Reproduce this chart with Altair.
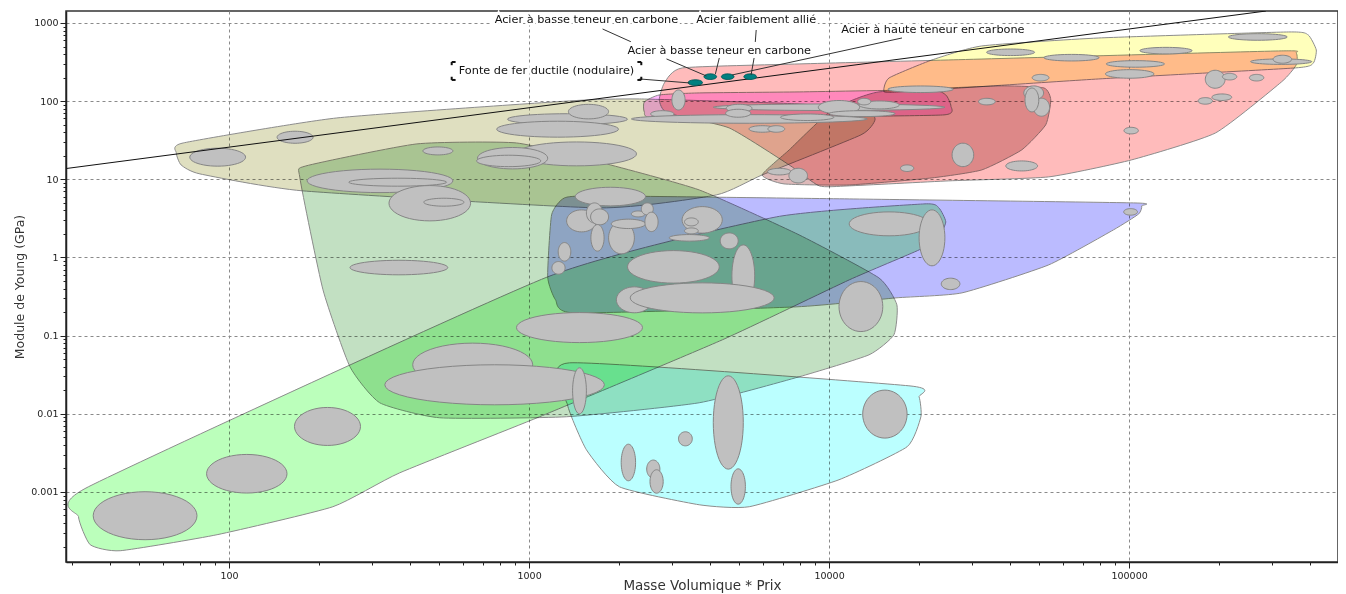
import altair as alt
import numpy as np
import pandas as pd

# ---------------- data (log10 values) ----------------
# material bubbles: centre log10(density*price), centre log10(E), half-spans in decades
bub_lx = [1.720, 2.059, 2.328, 1.962, 2.220, 3.128, 3.198, 3.095, 3.158, 2.945, 2.932, 2.696,
          2.503, 2.562, 2.669, 2.716, 2.566, 3.271, 3.168, 2.812, 2.885, 3.168, 4.106, 4.405,
          3.175, 3.218, 3.235, 3.228, 3.308, 3.331, 3.364, 3.394, 3.408, 3.118, 3.098, 3.577,
          3.541, 3.541, 3.534, 3.667, 3.481, 3.714, 3.351, 3.577, 4.200, 4.343, 5.005,
          3.664, 4.186, 3.521, 3.331, 3.414, 3.425, 3.697,
          3.498, 3.444, 3.734, 4.000, 3.700, 3.697, 4.033, 4.167, 4.117, 3.927, 4.110, 3.777,
          3.824, 3.834, 3.897, 4.446, 4.260, 4.642, 4.526, 4.305, 4.605, 4.808, 5.123, 5.429,
          5.021, 5.002, 5.507, 5.511, 5.287, 5.335, 5.425, 5.254, 5.309, 5.007, 4.705,
          4.682, 4.708, 4.676]
bub_ly = [-3.304, -2.767, -2.162, 1.283, 1.538, 1.769, 1.866, 1.641, 1.325, 1.270, 1.235, 1.363,
          0.980, 0.963, 0.694, 0.707, -0.129, 0.779, -0.897, -1.373, -1.629, -1.706, -0.628, -0.338,
          0.468, 0.570, 0.519, 0.251, 0.251, 0.430, 0.557, 0.621, 0.455, 0.072, -0.133, 0.481,
          0.455, 0.340, 0.251, 0.212, -0.120, -0.235, -0.542, -0.517, 0.430, 0.251, 0.583,
          -2.111, -2.004, -2.320, -2.623, -2.707, -2.866, -2.930,
          2.015, 1.836, 1.772, 1.922, 1.909, 1.845, 1.922, 1.951, 1.994, 1.794, 1.840, 1.644,
          1.644, 1.098, 1.047, 1.312, 1.142, 1.171, 1.994, 2.152, 2.625, 2.556, 2.646, 2.821,
          2.476, 2.348, 2.505, 2.536, 2.280, 2.313, 2.300, 2.003, 2.050, 1.623, 2.300,
          2.105, 1.922, 2.015]
bub_dx = [.173, .134, .110, .093, .060, .200, .067, .203, .200, .117, .107, .050,
          .243, .163, .136, .067, .163, .117, .210, .200, .366, .023, .073, .031,
          .050, .027, .030, .022, .043, .057, .023, .020, .022, .021, .022, .067,
          .023, .023, .067, .030, .153, .038, .060, .240, .133, .043, .023,
          .050, .074, .023, .024, .022, .022, .024,
          .022, .039, .393, .386, .043, .042, .069, .067, .022, .089, .110, .044,
          .028, .039, .031, .036, .022, .053, .028, .109, .080, .092, .087, .098,
          .097, .081, .102, .031, .033, .024, .024, .024, .033, .024, .028,
          .033, .027, .023]
bub_dy = [.307, .247, .243, .115, .077, .070, .093, .102, .153, .137, .073, .051,
          .150, .051, .226, .051, .093, .119, .192, .277, .256, .294, .320, .073,
          .141, .128, .102, .170, .205, .060, .038, .077, .124, .119, .081, .170,
          .051, .038, .042, .102, .208, .396, .166, .192, .153, .358, .042,
          .597, .307, .090, .234, .115, .150, .226,
          .128, .042, .055, .042, .051, .051, .086, .051, .042, .042, .038, .042,
          .042, .042, .094, .150, .042, .064, .042, .042, .042, .042, .042, .042,
          .042, .055, .035, .051, .115, .042, .042, .042, .042, .042, .042,
          .090, .115, .153]

# highlighted steels (teal bubbles)
steel_lx = [3.554, 3.604, 3.662, 3.737]
steel_ly = [2.237, 2.313, 2.313, 2.313]
steel_dx = [.024, .021, .021, .021]
steel_dy = [.036, .036, .036, .036]

# family envelopes (log10 outline vertices)
env_khaki_lx = [1.824, 1.847, 2.359, 3.135, 3.368, 3.900, 4.126, 4.153, 4.106, 3.777, 3.624, 3.235, 2.246, 1.903, 1.840]
env_khaki_ly = [1.338, 1.465, 1.785, 2.003, 2.028, 1.964, 1.875, 1.760, 1.568, 1.056, 0.800, 0.634, 0.852, 1.069, 1.184]
env_green_lx = [2.236, 2.256, 2.626, 2.958, 3.245, 3.567, 3.900, 4.166, 4.226, 4.216, 4.133, 3.900, 3.567, 3.125, 2.702, 2.502, 2.403, 2.313]
env_green_ly = [1.018, 1.171, 1.453, 1.465, 1.210, 0.864, 0.289, -0.261, -0.606, -0.990, -1.246, -1.527, -1.859, -2.038, -2.051, -1.859, -1.399, -0.414]
env_foam_lx = [1.531, 3.062, 3.824, 4.316, 4.366, 4.389, 4.366, 4.300, 4.067, 3.644, 3.035, 2.569, 2.346, 1.960, 1.637, 1.537, 1.498]
env_foam_ly = [-2.934, -0.248, 0.519, 0.685, 0.634, 0.455, 0.263, 0.097, -0.287, -1.054, -2.038, -2.755, -3.189, -3.547, -3.752, -3.675, -3.317]
env_blue_lx = [3.118, 3.075, 3.062, 3.088, 3.151, 3.890, 4.223, 4.443, 4.732, 4.948, 5.032, 5.042, 5.015, 4.067, 3.235]
env_blue_ly = [0.762, 0.545, -0.248, -0.542, -0.709, -0.632, -0.517, -0.453, -0.095, 0.353, 0.557, 0.660, 0.698, 0.749, 0.788]
env_cyan_lx = [3.135, 4.266, 4.300, 4.306, 4.260, 4.033, 3.734, 3.567, 3.301, 3.191, 3.128]
env_cyan_ly = [-1.348, -1.642, -1.783, -2.038, -2.422, -2.844, -3.189, -3.164, -2.934, -2.460, -1.885]
env_yellow_lx = [4.183, 4.200, 4.343, 4.509, 4.899, 5.531, 5.597, 5.624, 5.614, 5.554, 4.899, 4.233]
env_yellow_ly = [2.130, 2.297, 2.527, 2.706, 2.808, 2.885, 2.847, 2.655, 2.488, 2.425, 2.284, 2.118]
env_pink_lx = [3.511, 3.451, 3.434, 3.461, 3.667, 3.867, 3.967, 4.067, 4.399, 4.732, 5.008, 5.288, 5.508, 5.557, 5.557, 5.498, 4.399, 3.900]
env_pink_ly = [2.425, 2.233, 2.015, 1.849, 1.657, 1.184, 0.916, 0.916, 0.980, 1.031, 1.248, 1.593, 2.246, 2.463, 2.616, 2.642, 2.527, 2.476]
env_rose_lx = [3.777, 3.867, 4.010, 4.166, 4.566, 4.716, 4.739, 4.722, 4.642, 4.509, 4.343, 4.067, 3.850]
env_rose_ly = [1.056, 1.376, 1.887, 2.118, 2.194, 2.169, 2.015, 1.696, 1.376, 1.120, 1.018, 0.928, 0.941]
env_mag_lx = [3.434, 3.384, 3.384, 3.418, 3.900, 4.383, 4.406, 4.389, 4.333, 3.900, 3.567]
env_mag_ly = [2.079, 1.990, 1.862, 1.785, 1.798, 1.824, 1.939, 2.079, 2.143, 2.118, 2.105]

env_names = ["khaki", "green", "foam", "blue", "cyan", "yellow", "pink", "rose", "magenta"]
env_colors = ["#dfdfc0", "#c2e0c2", "#bbffbb", "#bbbbff", "#bbffff", "#ffffbb", "#ffbbbb", "#ddb9b9", "#ffb9ff"]

# guideline (slope 1/2 in log-log)
guide_x = [28.7, 285800]
guide_y = [13.75, 1422]

# annotations
lab_text = ["Acier à basse teneur en carbone", "Acier à basse teneur en carbone",
            "Acier faiblement allié", "Acier à haute teneur en carbone",
            "Fonte de fer ductile (nodulaire)"]
lab_lx = [3.191, 3.634, 3.757, 4.346, 3.058]
lab_ly = [3.038, 2.642, 3.038, 2.910, 2.386]
lead_lx1 = [3.245, 3.458, 3.634, 3.757, 3.750, 4.243, 3.368]
lead_ly1 = [2.923, 2.540, 2.552, 2.910, 2.552, 2.808, 2.284]
lead_lx2 = [3.341, 3.591, 3.621, 3.754, 3.740, 3.677, 3.534]
lead_ly2 = [2.757, 2.322, 2.348, 2.757, 2.335, 2.335, 2.233]
# selection brackets around the "Fonte" label
brk_lx1 = [2.742, 2.742, 3.361, 3.374, 2.742, 2.742, 3.361, 3.374]
brk_ly1 = [2.501, 2.501, 2.501, 2.501, 2.271, 2.271, 2.271, 2.271]
brk_lx2 = [2.755, 2.742, 3.374, 3.374, 2.755, 2.742, 3.374, 3.374]
brk_ly2 = [2.501, 2.460, 2.501, 2.460, 2.271, 2.312, 2.271, 2.312]

# axis ticks
x_dec = [10, 100, 1000, 10000, 100000]
y_dec = [0.0001, 0.001, 0.01, 0.1, 1, 10, 100, 1000]
mant = [1, 2, 3, 4, 5, 6, 7, 8, 9]

XDOM = [28.6, 497000]
YDOM = [0.000127, 1423]

# ---------------- build tables ----------------
t = np.linspace(0, 2 * np.pi, 48, endpoint=False)


def ellipse_table(lx, ly, dx, dy):
    rows = []
    for i, (a, b, c, d) in enumerate(zip(lx, ly, dx, dy)):
        for k, tt in enumerate(t):
            rows.append({"id": i, "k": k,
                         "x": 10 ** (a + c * np.cos(tt)),
                         "y": 10 ** (b + d * np.sin(tt))})
    return pd.DataFrame(rows)


bub_df = ellipse_table(bub_lx, bub_ly, bub_dx, bub_dy)
steel_df = ellipse_table(steel_lx, steel_ly, steel_dx, steel_dy)

env_data = {
    "khaki": (env_khaki_lx, env_khaki_ly), "green": (env_green_lx, env_green_ly),
    "foam": (env_foam_lx, env_foam_ly),
    "blue": (env_blue_lx, env_blue_ly), "cyan": (env_cyan_lx, env_cyan_ly),
    "yellow": (env_yellow_lx, env_yellow_ly), "pink": (env_pink_lx, env_pink_ly),
    "rose": (env_rose_lx, env_rose_ly), "magenta": (env_mag_lx, env_mag_ly),
}

DEC = "abs(log(datum.value)/LN10 - round(log(datum.value)/LN10)) < 0.001"
LBL = DEC + " ? (datum.value >= 1 ? format(datum.value, 'd') : format(datum.value, '~g')) : ''"

x_ticks = [m * d for d in x_dec for m in mant if XDOM[0] <= m * d <= XDOM[1]]
y_ticks = [m * d for d in y_dec for m in mant if YDOM[0] <= m * d <= YDOM[1]]

FONT = "DejaVu Sans"


def axis(vals, title, pad):
    return alt.Axis(values=vals, title=title, labelExpr=LBL, grid=True,
                    gridDash=[3, 3], gridColor="#8a8a8a", gridWidth=1,
                    gridOpacity={"condition": {"test": DEC, "value": 1}, "value": 0},
                    tickSize={"condition": {"test": DEC, "value": 6}, "value": 3},
                    tickColor="#222", domainColor="#222", domainWidth=1.5,
                    labelFont=FONT, labelFontSize=9.5, labelColor="#222",
                    labelOverlap=False, labelFlush=False, labelPadding=2,
                    titleFont=FONT, titleFontWeight="normal", titleColor="#333",
                    titlePadding=pad)


xs = alt.Scale(type="log", domain=XDOM, nice=False)
ys = alt.Scale(type="log", domain=YDOM, nice=False)


def X(f):
    return alt.X(f, type="quantitative", scale=xs,
                 axis=axis(x_ticks, "Masse Volumique * Prix", -1))


def Y(f):
    return alt.Y(f, type="quantitative", scale=ys,
                 axis=axis(y_ticks, "Module de Young (GPa)", 4))


layers = []
for name, col in zip(env_names, env_colors):
    lx, ly = env_data[name]
    df = pd.DataFrame({"x": [10 ** v for v in lx], "y": [10 ** v for v in ly],
                       "k": list(range(len(lx)))})
    # no clipping here: a clip group would isolate the multiply blend
    layers.append(
        alt.Chart(df).mark_line(interpolate="cardinal-closed", tension=0.5, fill=col,
                                fillOpacity=1, blend="multiply", stroke="#8c8c8c",
                                strokeWidth=1)
        .encode(x=X("x"), y=Y("y"), order="k:Q")
    )

layers.append(
    alt.Chart(bub_df).mark_line(interpolate="linear-closed", fill="#c0c0c0", stroke="#858585",
                                strokeWidth=1)
    .encode(x=X("x"), y=Y("y"), detail="id:N", order="k:Q")
)

guide_df = pd.DataFrame({"x": guide_x, "y": guide_y})
layers.append(
    alt.Chart(guide_df).mark_line(color="#111", strokeWidth=1, clip=True)
    .encode(x=X("x"), y=Y("y"))
)

layers.append(
    alt.Chart(steel_df).mark_line(interpolate="linear-closed", fill="#008080", stroke="#005a5a",
                                  strokeWidth=1)
    .encode(x=X("x"), y=Y("y"), detail="id:N", order="k:Q")
)

lead_df = pd.DataFrame({"x": [10 ** v for v in lead_lx1], "y": [10 ** v for v in lead_ly1],
                        "x2": [10 ** v for v in lead_lx2], "y2": [10 ** v for v in lead_ly2]})
layers.append(
    alt.Chart(lead_df).mark_rule(color="#333", strokeWidth=1)
    .encode(x=X("x"), y=Y("y"), x2="x2", y2="y2")
)

lab_df = pd.DataFrame({"x": [10 ** v for v in lab_lx], "y": [10 ** v for v in lab_ly],
                       "text": lab_text})
# white halo under the labels (hides the grid behind them), then the text itself
layers.append(
    alt.Chart(lab_df).mark_text(font=FONT, fontSize=11.3, color="white", stroke="white",
                                strokeWidth=5, align="center", baseline="middle")
    .encode(x=X("x"), y=Y("y"), text="text:N")
)
layers.append(
    alt.Chart(lab_df).mark_text(font=FONT, fontSize=11.3, color="#111", align="center",
                                baseline="middle")
    .encode(x=X("x"), y=Y("y"), text="text:N")
)

brk_df = pd.DataFrame({"x": [10 ** v for v in brk_lx1], "y": [10 ** v for v in brk_ly1],
                       "x2": [10 ** v for v in brk_lx2], "y2": [10 ** v for v in brk_ly2]})
layers.append(
    alt.Chart(brk_df).mark_rule(color="#111", strokeWidth=2)
    .encode(x=X("x"), y=Y("y"), x2="x2", y2="y2")
)

chart = (
    alt.layer(*layers)
    .properties(width=1272, height=551,
                padding={"left": 58, "top": 3, "right": 0, "bottom": 32},
                autosize=alt.AutoSizeParams(type="none"))
    .configure_view(stroke="#333", strokeWidth=1.5)
    .configure_axis(titleFontSize=13)
    .configure_axisX(titleFontSize=13.5)
    .configure_axisY(titleFontSize=12.5)
)

chart.save("out.html", embed_options={"renderer": "svg", "actions": False})
